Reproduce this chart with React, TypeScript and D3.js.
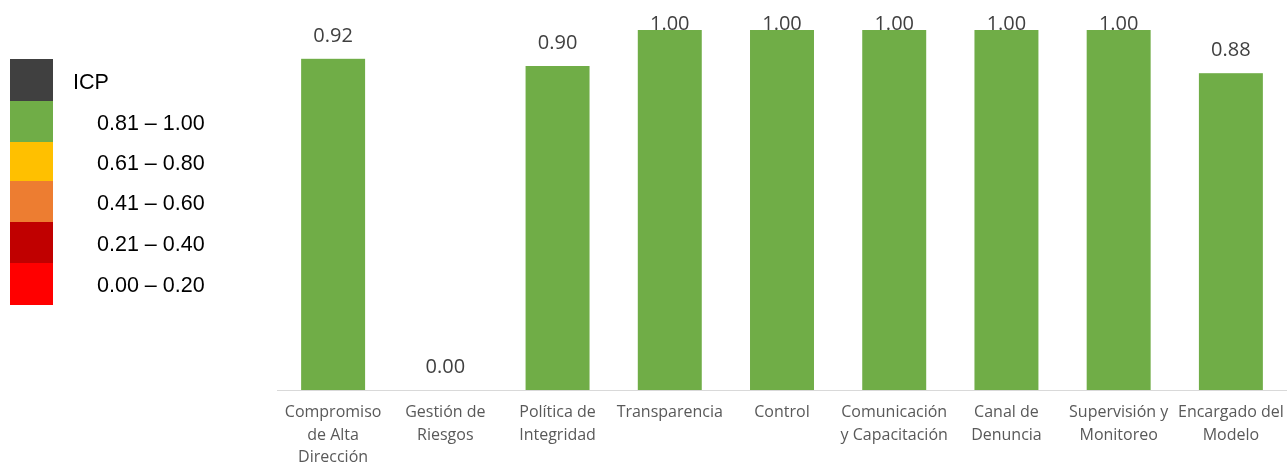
import { useEffect, useRef } from "react";
import * as d3 from "d3";

const categories = [
  ["Compromiso", "de Alta", "Dirección"],
  ["Gestión de", "Riesgos"],
  ["Política de", "Integridad"],
  ["Transparencia"],
  ["Control"],
  ["Comunicación", "y Capacitación"],
  ["Canal de", "Denuncia"],
  ["Supervisión y", "Monitoreo"],
  ["Encargado del", "Modelo"],
];
const values = [0.92, 0.0, 0.9, 1.0, 1.0, 1.0, 1.0, 1.0, 0.88];

const legendTitle = "ICP";
const legendLabels = ["0.81 – 1.00", "0.61 – 0.80", "0.41 – 0.60", "0.21 – 0.40", "0.00 – 0.20"];
const legendColors = ["#404040", "#70ad47", "#ffc000", "#ed7d31", "#c00000", "#ff0000"];

export default function App() {
  const svgRef = useRef<SVGSVGElement>(null);

  useEffect(() => {
    if (!svgRef.current) return;
    const svg = d3.select(svgRef.current);
    svg.selectAll("*").remove();

    const width = 1287;
    const height = 466;
    svg.attr("width", width).attr("height", height);

    const x = d3
      .scaleBand<number>()
      .domain(values.map((_, i) => i))
      .range([277, 1287])
      .paddingInner(0.43)
      .paddingOuter(0.215);

    const y = d3.scaleLinear().domain([0, 1]).range([390, 30]);

    // Bars
    svg
      .append("g")
      .selectAll("rect")
      .data(values)
      .join("rect")
      .attr("x", (_, i) => x(i)!)
      .attr("y", (d) => y(d))
      .attr("width", x.bandwidth())
      .attr("height", (d) => y(0) - y(d))
      .attr("fill", "#70ad47");

    // Axis line
    svg
      .append("line")
      .attr("x1", 277)
      .attr("x2", 1287)
      .attr("y1", 390.5)
      .attr("y2", 390.5)
      .attr("stroke", "#d9d9d9")
      .attr("stroke-width", 1.2);

    // Value labels
    svg
      .append("g")
      .selectAll("text")
      .data(values)
      .join("text")
      .attr("x", (_, i) => x(i)! + x.bandwidth() / 2)
      .attr("y", (d) => Math.max(y(d) - 17, 30))
      .attr("text-anchor", "middle")
      .attr("fill", "#404040")
      .style("font-family", "'Open Sans', sans-serif")
      .style("font-size", "20px")
      .text((d) => d.toFixed(2));

    // Category labels
    const cat = svg
      .append("g")
      .selectAll("text")
      .data(categories)
      .join("text")
      .attr("x", (_, i) => x(i)! + x.bandwidth() / 2)
      .attr("y", 417)
      .attr("text-anchor", "middle")
      .attr("fill", "#595959")
      .style("font-family", "'Open Sans', sans-serif")
      .style("font-size", "16px");
    cat
      .selectAll("tspan")
      .data((d) => d)
      .join("tspan")
      .attr("x", function () {
        return (this.parentNode as SVGTextElement).getAttribute("x");
      })
      .attr("dy", (_, j) => (j === 0 ? 0 : 22.5))
      .text((d) => d);

    // Legend
    const bounds = [59, 101, 142, 181, 222, 263, 305];
    const legend = svg.append("g");
    legend
      .selectAll("rect")
      .data(legendColors)
      .join("rect")
      .attr("x", 10)
      .attr("y", (_, i) => bounds[i])
      .attr("width", 43)
      .attr("height", (_, i) => bounds[i + 1] - bounds[i])
      .attr("fill", (d) => d);

    legend
      .append("text")
      .attr("x", 73)
      .attr("y", 89)
      .attr("fill", "#000")
      .style("font-family", "'Liberation Sans', Arial, sans-serif")
      .style("font-size", "21.5px")
      .text(legendTitle);

    legend
      .selectAll("text.range")
      .data(legendLabels)
      .join("text")
      .attr("class", "range")
      .attr("x", 97)
      .attr("y", (_, i) => (bounds[i + 1] + bounds[i + 2]) / 2 + 8)
      .attr("fill", "#000")
      .style("font-family", "'Liberation Sans', Arial, sans-serif")
      .style("font-size", "21.5px")
      .text((d) => d);
  }, []);

  return (
    <div style={{ position: "fixed", left: 0, top: 0, width: 1287, height: 466, overflow: "hidden" }}>
      <svg ref={svgRef} style={{ display: "block" }}></svg>
    </div>
  );
}
